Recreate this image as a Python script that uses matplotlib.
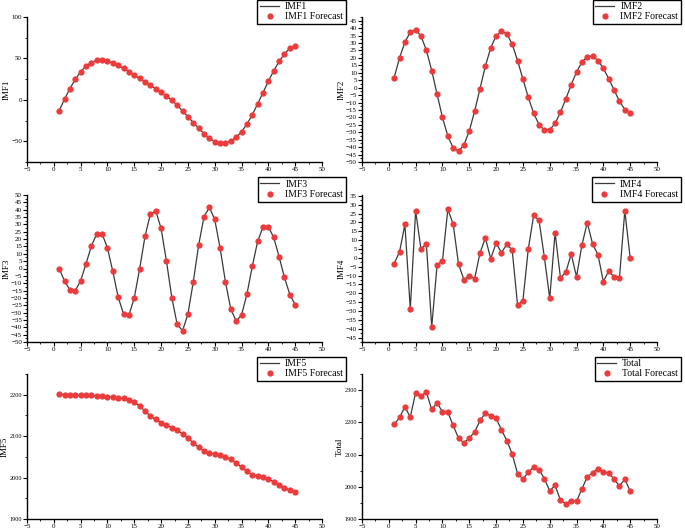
import matplotlib
matplotlib.use('Agg')
import matplotlib.pyplot as plt
import numpy as np
from matplotlib.ticker import MultipleLocator, AutoMinorLocator

plt.rcParams['font.family'] = ['Liberation Serif', 'DejaVu Serif']

# time steps
t = np.arange(1, 46)

imf1 = [-12.9, 0.8, 13.7, 24.6, 34.0, 40.7, 45.0, 47.6, 48.0, 46.8,
        44.8, 41.5, 37.9, 33.9, 29.8, 25.8, 21.8, 17.7, 13.7, 9.3,
        4.8, -0.4, -6.5, -13.3, -20.2, -27.4, -34.3, -40.7, -46.4, -50.4,
        -52.4, -52.0, -50.0, -45.2, -38.3, -29.4, -18.1, -4.8, 8.5, 22.6,
        35.1, 46.4, 55.6, 62.1, 65.3]

imf2 = [6.8, 20.1, 30.6, 37.3, 39.0, 34.6, 25.2, 11.5, -4.5, -20.0,
        -32.5, -40.5, -42.7, -38.5, -29.2, -15.8, -0.7, 14.4, 26.8, 34.8,
        37.9, 36.2, 29.3, 18.2, 5.8, -6.5, -17.1, -24.9, -28.5, -28.3,
        -24.1, -16.5, -7.6, 1.9, 10.6, 17.1, 20.8, 21.3, 18.2, 12.9,
        6.0, -1.6, -9.1, -14.7, -17.1]

imf3 = [0.0, -8.6, -14.5, -15.0, -8.4, 3.2, 15.2, 23.6, 23.6, 13.9,
        -2.0, -19.5, -30.9, -31.8, -20.0, -0.2, 21.8, 37.0, 39.3, 27.3,
        5.0, -19.8, -38.0, -42.3, -31.1, -9.1, 15.9, 35.2, 41.6, 33.4,
        13.9, -9.1, -27.7, -35.7, -31.6, -17.5, 1.4, 18.4, 28.2, 28.4,
        21.1, 8.0, -6.1, -17.7, -24.5]

imf4 = [-3.2, 3.4, 18.9, -28.9, 26.5, 4.9, 8.1, -39.0, -4.0, -1.7,
        27.4, 19.1, -3.6, -12.3, -10.2, -11.7, 2.8, 11.2, -0.4, 8.3,
        3.0, 7.6, 4.5, -26.5, -24.2, 4.9, 24.0, 21.2, 0.4, -22.9,
        14.2, -11.3, -8.1, 2.1, -10.6, 7.2, 19.9, 7.8, 1.7, -13.4,
        -7.4, -10.8, -11.3, 26.7, -0.2]

imf5 = [2202.4, 2200.0, 2200.0, 2198.4, 2199.2, 2198.4, 2199.2, 2196.8, 2196.8, 2194.4,
        2194.4, 2191.2, 2191.2, 2187.2, 2183.2, 2172.0, 2160.8, 2148.0, 2140.8, 2132.8,
        2126.4, 2120.8, 2114.4, 2105.6, 2095.2, 2084.0, 2073.6, 2064.0, 2058.4, 2056.0,
        2053.6, 2049.6, 2044.0, 2035.2, 2025.6, 2015.2, 2007.2, 2003.2, 2000.8, 1996.0,
        1990.4, 1983.2, 1976.0, 1968.8, 1965.6]

total = [2193.3, 2215.0, 2248.2, 2216.1, 2291.7, 2281.3, 2293.8, 2239.9, 2260.6, 2232.6,
         2231.6, 2190.2, 2150.8, 2136.3, 2151.8, 2169.4, 2205.7, 2228.5, 2220.2, 2212.9,
         2176.7, 2143.5, 2102.1, 2040.9, 2024.4, 2045.1, 2060.6, 2053.4, 2025.4, 1987.0,
         2004.7, 1958.0, 1947.7, 1957.0, 1954.9, 1993.3, 2030.6, 2044.1, 2056.5, 2045.1,
         2044.1, 2023.3, 2002.6, 2023.3, 1987.0]

names = ['IMF1', 'IMF2', 'IMF3', 'IMF4', 'IMF5', 'Total']
series = [imf1, imf2, imf3, imf4, imf5, total]
ylims = [(-75, 100), (-50, 47.5), (-50, 50), (-47.5, 35.5), (1900, 2250), (1900, 2350)]
ysteps = [50, 5, 5, 5, 100, 100]

fig = plt.figure(figsize=(6.85, 5.32), dpi=100)

lefts = [27, 362]
width = 295
rows = [(17, 162), (195, 342), (374, 519)]

for i, (name, vals) in enumerate(zip(names, series)):
    r, c = divmod(i, 2)
    top, bot = rows[r]
    ax = fig.add_axes([lefts[c] / 685, (532 - bot) / 532, width / 685, (bot - top) / 532])
    ax.plot(t, vals, color='#3a3a3a', lw=0.9, label=name, zorder=2)
    ax.plot(t, vals, 'o', color='#ec3b3b', ms=4.5, mec='none', label=name + ' Forecast', zorder=3)
    ax.set_xlim(-5, 50)
    ax.set_ylim(*ylims[i])
    ax.xaxis.set_major_locator(MultipleLocator(5))
    ax.xaxis.set_minor_locator(AutoMinorLocator(2))
    ax.yaxis.set_major_locator(MultipleLocator(ysteps[i]))
    ax.yaxis.set_minor_locator(AutoMinorLocator(2))
    for s in ['top', 'right']:
        ax.spines[s].set_visible(False)
    for s in ['left', 'bottom']:
        ax.spines[s].set_linewidth(1.0)
    ax.tick_params(which='major', direction='out', length=2.6, width=0.8, labelsize=5, pad=1)
    ax.tick_params(which='minor', direction='out', length=1.6, width=0.6)
    if r == 2:
        ax.tick_params(axis='y', labelsize=4.5)
    ax.set_ylabel(name, fontsize=6.5, labelpad=0.5)
    leg = ax.legend(loc='upper right', bbox_to_anchor=(1.08, 1.12), fontsize=7,
                    frameon=True, fancybox=False, edgecolor='black', framealpha=1,
                    borderpad=0.25, labelspacing=0.15, handlelength=2.0,
                    handletextpad=0.6, borderaxespad=0)
    leg.get_frame().set_linewidth(1.0)
    leg.set_zorder(10)

fig.savefig('out.png', dpi=100)
